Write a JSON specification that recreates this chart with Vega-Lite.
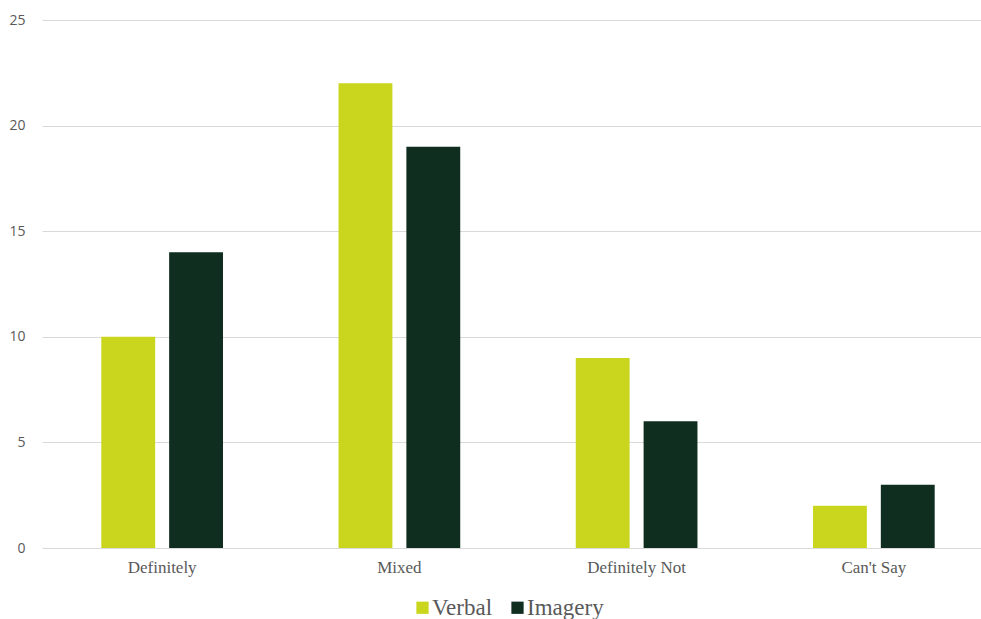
{
  "$schema": "https://vega.github.io/schema/vega-lite/v6.json",
  "width": 952,
  "height": 528,
  "autosize": {"type": "none"},
  "padding": {"left": 42, "top": 20, "right": 0, "bottom": 71},
  "background": "white",
  "data": {
    "values": [
      {"answer": "Definitely", "style": "Verbal", "count": 10},
      {"answer": "Definitely", "style": "Imagery", "count": 14},
      {"answer": "Mixed", "style": "Verbal", "count": 22},
      {"answer": "Mixed", "style": "Imagery", "count": 19},
      {"answer": "Definitely Not", "style": "Verbal", "count": 9},
      {"answer": "Definitely Not", "style": "Imagery", "count": 6},
      {"answer": "Can't Say", "style": "Verbal", "count": 2},
      {"answer": "Can't Say", "style": "Imagery", "count": 3}
    ]
  },
  "mark": {"type": "bar"},
  "encoding": {
    "x": {
      "field": "answer",
      "type": "nominal",
      "sort": ["Definitely", "Mixed", "Definitely Not", "Can't Say"],
      "scale": {"paddingInner": 0.487, "paddingOuter": 0.25},
      "axis": {
        "title": null,
        "labelAngle": 0,
        "domain": false,
        "ticks": false,
        "labelFont": "Liberation Serif",
        "labelFontSize": 17,
        "labelColor": "#595959",
        "labelPadding": 11
      }
    },
    "xOffset": {
      "field": "style",
      "type": "nominal",
      "sort": ["Verbal", "Imagery"],
      "scale": {"paddingInner": 0.206}
    },
    "y": {
      "field": "count",
      "type": "quantitative",
      "scale": {"domain": [0, 25]},
      "axis": {
        "title": null,
        "values": [0, 5, 10, 15, 20, 25],
        "domain": false,
        "ticks": false,
        "grid": true,
        "gridColor": "#d9d9d9",
        "gridWidth": 1,
        "labelFont": "Open Sans",
        "labelFontSize": 14,
        "labelColor": "#595959",
        "labelPadding": 17
      }
    },
    "color": {
      "field": "style",
      "type": "nominal",
      "sort": ["Verbal", "Imagery"],
      "scale": {"domain": ["Verbal", "Imagery"], "range": ["#c9d61d", "#0f2e1f"]},
      "legend": {
        "title": null,
        "orient": "none",
        "direction": "horizontal",
        "legendX": 369,
        "legendY": 576,
        "symbolType": "square",
        "symbolSize": 150,
        "symbolStrokeWidth": 0,
        "symbolOpacity": 1,
        "labelFont": "Liberation Serif",
        "labelFontSize": 23,
        "labelColor": "#595959",
        "labelOffset": -2,
        "columnPadding": 13
      }
    }
  },
  "config": {
    "view": {"stroke": null},
    "axis": {"gridDash": []}
  }
}
